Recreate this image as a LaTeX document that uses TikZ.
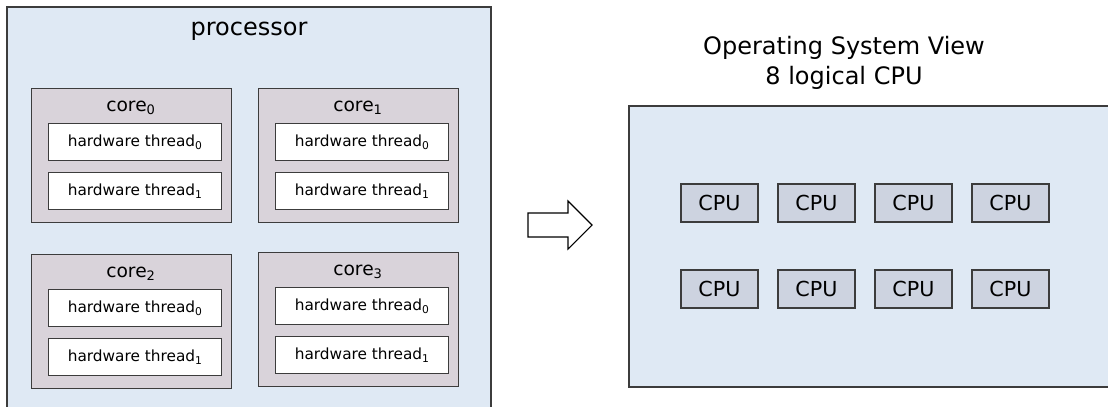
\documentclass[tikz,border=0pt]{standalone}
\usepackage{fontspec}
\setmainfont{DejaVu Sans}
\usepackage{tikz}

\definecolor{paleblue}{HTML}{DFE9F4}
\definecolor{coregray}{HTML}{D9D3DA}
\definecolor{cpublue}{HTML}{CDD3E0}
\definecolor{edgegray}{HTML}{3C3C3C}

\begin{document}
\begin{tikzpicture}[x=0.75pt,y=-0.75pt,
	outline/.style={draw=edgegray,line width=1.1pt},
	corebox/.style={outline,fill=coregray,minimum width=150pt,minimum height=100.5pt,inner sep=0pt,anchor=north west},
	threadbox/.style={outline,fill=white,minimum width=129.75pt,minimum height=27.75pt,inner sep=0pt,anchor=north west,font=\fontsize{11.5}{13}\selectfont},
	cpubox/.style={outline,fill=cpublue,minimum width=57.75pt,minimum height=28.5pt,inner sep=0pt,font=\fontsize{15.5}{18}\selectfont}]
	\useasboundingbox (0,0) rectangle (1108,407);
	\clip (0,0) rectangle (1108,407);
	% processor
	\draw[outline,fill=paleblue] (7,7) rectangle (491,420);
	\node (proc) at (249,31) {\fontsize{18}{22}\selectfont processor};
	% cores with two hardware threads each
	\foreach \i/\cx/\cy in {0/31/88,1/258/88,2/31/254,3/258/252}{
		\node[corebox] (core\i) at (\cx,\cy) {};
		\node[font=\fontsize{14}{16}\selectfont] (corelabel\i) at (\cx+100,\cy+20) {core\textsubscript{\i}};
		\node[threadbox] (thr\i a) at (\cx+17,\cy+35) {hardware thread\textsubscript{0}};
		\node[threadbox] (thr\i b) at (\cx+17,\cy+84) {hardware thread\textsubscript{1}};
	}
	% arrow
	\draw[draw=black,line width=0.8pt,fill=white] (528,213) -- (568,213) -- (568,201) -- (592,225) -- (568,249) -- (568,237) -- (528,237) -- cycle;
	% operating system view
	\node[align=center,font=\fontsize{18}{22.5}\selectfont] (osview) at (844,63) {Operating System View\\8 logical CPU};
	\draw[outline,fill=paleblue] (629,106) rectangle (1120,387);
	\foreach \r in {0,1}{
		\foreach \c in {0,...,3}{
			\node[cpubox] (cpu\r\c) at (719.5+97*\c,203+86*\r) {CPU};
		}
	}
\end{tikzpicture}
\end{document}
